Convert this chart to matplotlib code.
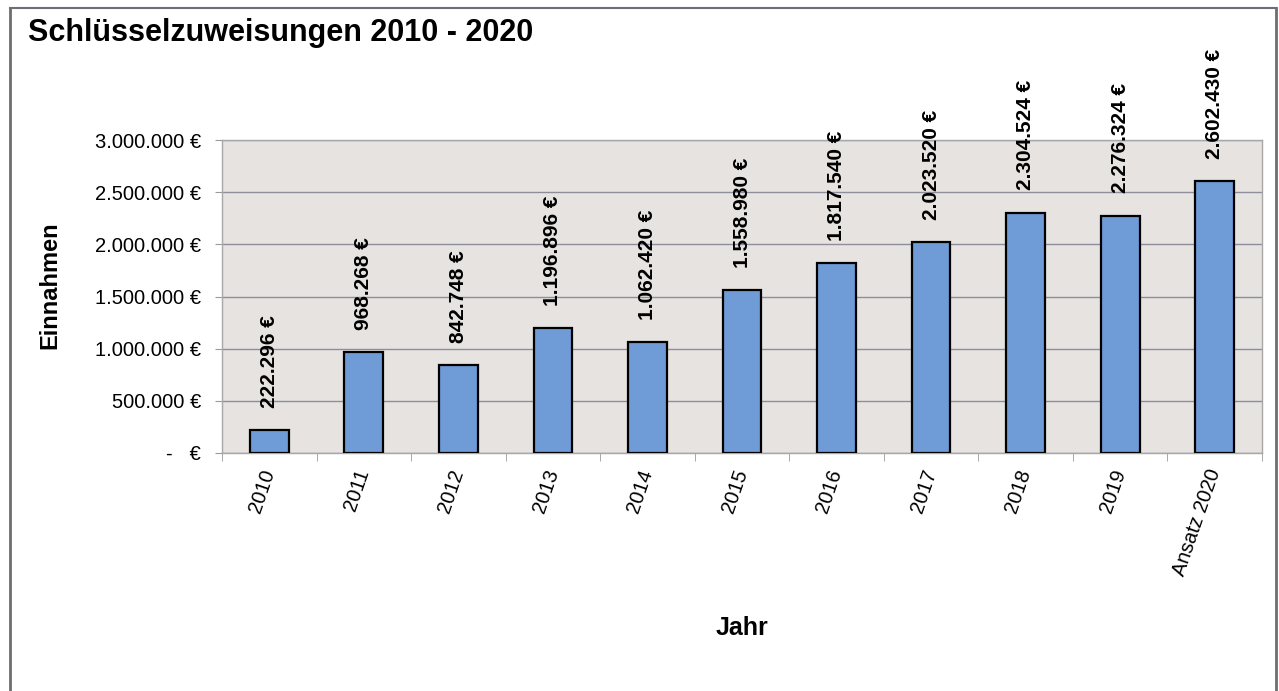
import matplotlib.pyplot as plt
from matplotlib.ticker import FuncFormatter, FixedLocator

# data
years = ['2010', '2011', '2012', '2013', '2014', '2015', '2016', '2017', '2018', '2019', 'Ansatz 2020']
values = [222296, 968268, 842748, 1196896, 1062420, 1558980, 1817540, 2023520, 2304524, 2276324, 2602430]
yticks = [0, 500000, 1000000, 1500000, 2000000, 2500000, 3000000]

plt.rcParams['font.family'] = 'Liberation Sans'

def euro(v, pos=None):
    if v == 0:
        return '-   €'
    return '{:,.0f} €'.format(v).replace(',', '.')

fig = plt.figure(figsize=(12.79, 6.91), dpi=100)
ax = fig.add_axes([222/1279, 1-453/691, (1262-222)/1279, (453-140)/691])

# outer frame of the chart
fig.add_artist(plt.Line2D([10/1279, 10/1279], [0, 1-8/691], color='#6e6e6e', lw=2))
fig.add_artist(plt.Line2D([10/1279, 1276/1279], [1-8/691, 1-8/691], color='#6e6e78', lw=1.5))
fig.add_artist(plt.Line2D([1276/1279, 1276/1279], [0, 1-8/691], color='#6e6e6e', lw=2))

ax.set_facecolor('#e6e3e0')
x = list(range(len(years)))
ax.bar(x, values, width=0.41, color='#6f9bd6', edgecolor='black', linewidth=1.6, zorder=3)

for i, v in enumerate(values):
    ax.annotate(euro(v), (i, v), xytext=(0, 16), textcoords='offset points',
                rotation=90, ha='center', va='bottom', fontsize=15, weight='bold')

ax.set_xlim(-0.5, len(years) - 0.5)
ax.set_ylim(0, 3000000)
ax.set_yticks(yticks)
ax.yaxis.set_major_formatter(FuncFormatter(euro))
ax.grid(axis='y', color='#8d8d9c', lw=1, zorder=1)

ax.set_xticks(x)
ax.set_xticklabels(years, rotation=71, ha='right', va='center', rotation_mode='anchor', fontsize=14.5)
ax.xaxis.set_minor_locator(FixedLocator([i + 0.5 for i in range(-1, len(years))]))
ax.tick_params(axis='x', which='major', length=0, pad=12)
ax.tick_params(axis='x', which='minor', length=6, color='#9a9a9a')
ax.tick_params(axis='y', length=5, color='#9a9a9a', labelsize=14.5, pad=10)

for s in ax.spines.values():
    s.set_color('#a8a8a8')
    s.set_linewidth(1)

fig.text(50/1279, 1-285/691, 'Einnahmen', rotation=90, ha='center', va='center', fontsize=17, weight='bold')
fig.text(742/1279, 1-628/691, 'Jahr', ha='center', va='center', fontsize=18, weight='bold')
fig.text(28/1279, 1-41/691, 'Schlüsselzuweisungen 2010 - 2020', ha='left', va='baseline', fontsize=22, weight='bold')

plt.savefig('out.png', dpi=100)
